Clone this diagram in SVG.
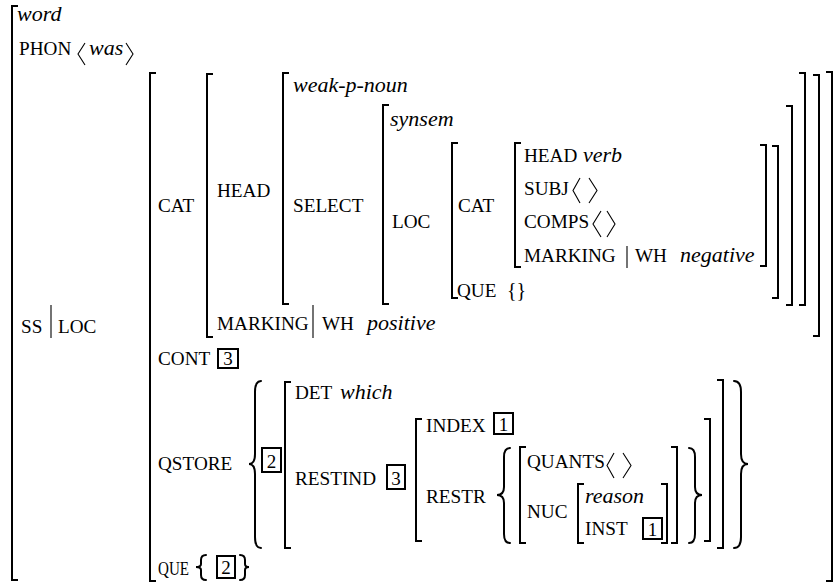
<svg xmlns="http://www.w3.org/2000/svg" width="837" height="584" viewBox="0 0 837 584" font-family="'Liberation Serif', 'Times New Roman', serif">
<style>
text { font-family: 'Liberation Serif', 'Times New Roman', serif; font-size: 19.2px; fill: #000; }
.v { font-style: italic; font-size: 22px; }
.n { font-size: 19px; text-anchor: middle; }
.br { fill: none; stroke: #000; stroke-width: 2; }
.ang { fill: none; stroke: #000; stroke-width: 1.1; }
.bar { stroke: #000; stroke-width: 1.1; }
.box { fill: none; stroke: #000; stroke-width: 2; }
.brace { fill: none; stroke: #000; stroke-width: 2; stroke-linecap: round; }
</style>
<rect width="837" height="584" fill="#fff"/>

<g id="word">
  <path class="br" d="M18 6 H12 V580 H18"/>
  <text x="17" y="21" class="v">word</text>
  <text x="19" y="55">PHON</text>
  <path class="ang" d="M85 43 L78 54 L85 65"/>
  <text x="89" y="55" class="v">was</text>
  <path class="ang" d="M126 43 L133 54 L126 65"/>
  <text x="21" y="333">SS</text>
  <line class="bar" x1="51" y1="305" x2="51" y2="338"/>
  <text x="58" y="333">LOC</text>
</g>

<g id="ssloc">
  <path class="br" d="M156 73 H150 V581 H156"/>
  <path class="br" d="M826 72 H832 V581 H826"/>
  <text x="158" y="212">CAT</text>
  <text x="158" y="365">CONT</text>
  <rect class="box" x="218" y="349" width="20" height="19"/>
  <text x="228" y="365" class="n">3</text>
  <text x="158" y="470">QSTORE</text>
  <text x="158" y="575" textLength="31" lengthAdjust="spacingAndGlyphs">QUE</text>
  <path class="brace" d="M206 555 Q201 555 201 560 V564 Q201 567 196 567 Q201 567 201 570 V575 Q201 580 206 580"/>
  <rect class="box" x="217" y="556" width="18" height="22"/>
  <text x="226" y="574" class="n">2</text>
  <path class="brace" d="M240 555 Q245 555 245 560 V564 Q245 567 249 567 Q245 567 245 570 V575 Q245 580 240 580"/>
</g>

<g id="cat">
  <path class="br" d="M213 74 H207 V337 H213"/>
  <path class="br" d="M813 75 H819 V336 H813"/>
  <text x="217" y="197">HEAD</text>
  <text x="217" y="330">MARKING</text>
  <line class="bar" x1="313" y1="305" x2="313" y2="338"/>
  <text x="322" y="330">WH</text>
  <text x="367" y="330" class="v">positive</text>
</g>

<g id="head">
  <path class="br" d="M289 73 H283 V304 H289"/>
  <path class="br" d="M799 73 H805 V305 H799"/>
  <text x="293" y="92" class="v">weak-p-noun</text>
  <text x="293" y="212">SELECT</text>
</g>

<g id="synsem">
  <path class="br" d="M389 105 H383 V304 H389"/>
  <path class="br" d="M786 106 H792 V305 H786"/>
  <text x="390" y="126" class="v">synsem</text>
  <text x="392" y="228">LOC</text>
</g>

<g id="loc">
  <path class="br" d="M458 143 H452 V298 H458"/>
  <path class="br" d="M772 146 H778 V298 H772"/>
  <text x="458" y="212">CAT</text>
  <text x="457" y="297">QUE</text>
  <text x="507" y="297" style="font-size:20px">{}</text>
</g>

<g id="cat-inner">
  <path class="br" d="M521 143 H515 V267 H521"/>
  <path class="br" d="M760 145 H766 V266 H760"/>
  <text x="524" y="162">HEAD</text>
  <text x="583" y="162" class="v">verb</text>
  <text x="524" y="195">SUBJ</text>
  <path class="ang" d="M580 178 L573 190.5 L580 203"/>
  <path class="ang" d="M589 178 L597 190.5 L589 203"/>
  <text x="524" y="228">COMPS</text>
  <path class="ang" d="M601 211 L593 224 L601 237"/>
  <path class="ang" d="M607 211 L615 224 L607 237"/>
  <text x="524" y="262">MARKING</text>
  <line class="bar" x1="627" y1="246" x2="627" y2="268"/>
  <text x="635" y="262">WH</text>
  <text x="680" y="262" class="v">negative</text>
</g>

<g id="qstore">
  <path class="brace" d="M261 381 Q255 381 255 392 V454 Q255 464 249 464 Q255 464 255 474 V537 Q255 548 261 548"/>
  <rect class="box" x="262" y="448" width="19" height="24"/>
  <text x="271.5" y="468" class="n">2</text>
  <path class="br" d="M291 382 H285 V548 H291"/>
  <path class="br" d="M717 380 H723 V548 H717"/>
  <path class="brace" d="M734 381 Q741 381 741 392 V454 Q741 464 748 464 Q741 464 741 474 V537 Q741 548 734 548"/>
  <text x="295" y="399">DET</text>
  <text x="340" y="399" class="v">which</text>
  <text x="295" y="485">RESTIND</text>
  <rect class="box" x="387" y="465" width="18" height="24"/>
  <text x="396" y="485" class="n">3</text>
</g>

<g id="restind">
  <path class="br" d="M422 419 H416 V541 H422"/>
  <path class="br" d="M704 419 H710 V541 H704"/>
  <text x="426" y="432">INDEX</text>
  <rect class="box" x="494" y="413" width="19" height="21"/>
  <text x="503.5" y="431" class="n">1</text>
  <text x="426" y="503">RESTR</text>
  <path class="brace" d="M510 448 Q504 448 504 457 V487 Q504 495 497 495 Q504 495 504 503 V534 Q504 543 510 543"/>
  <path class="brace" d="M689 448 Q695 448 695 457 V487 Q695 495 702 495 Q695 495 695 503 V534 Q695 543 689 543"/>
</g>

<g id="restr">
  <path class="br" d="M526 447 H520 V543 H526"/>
  <path class="br" d="M671 447 H677 V543 H671"/>
  <text x="527" y="468">QUANTS</text>
  <path class="ang" d="M614 453 L607 465.5 L614 478"/>
  <path class="ang" d="M623 453 L631 465.5 L623 478"/>
  <text x="527" y="518">NUC</text>
</g>

<g id="nuc">
  <path class="br" d="M584 484 H578 V543 H584"/>
  <path class="br" d="M661 484 H667 V543 H661"/>
  <text x="585" y="503" class="v">reason</text>
  <text x="585" y="535">INST</text>
  <rect class="box" x="643" y="518" width="19" height="21"/>
  <text x="652.5" y="536" class="n">1</text>
</g>
</svg>
